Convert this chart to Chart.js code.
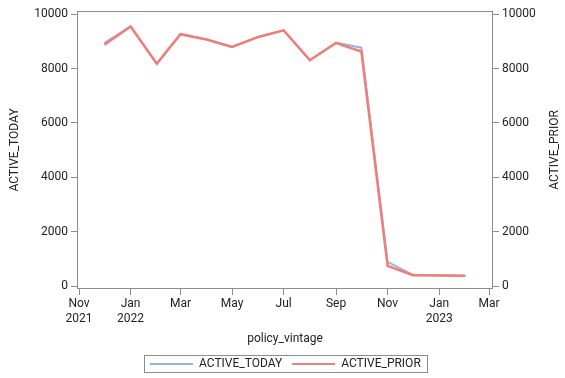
<!DOCTYPE html>
<html>
<head>
<meta charset="utf-8">
<script src="https://cdn.jsdelivr.net/npm/chart.js@4"></script>
<style>
  html, body { margin: 0; padding: 0; background: #fff; }
  #wrap { width: 565px; height: 378px; position: relative; }
</style>
</head>
<body>
<div id="wrap"><canvas id="chart"></canvas></div>
<script>
const months = ["2021-12", "2022-01", "2022-02", "2022-03", "2022-04", "2022-05", "2022-06",
    "2022-07", "2022-08", "2022-09", "2022-10", "2022-11", "2022-12", "2023-01", "2023-02"],
  activeToday = [8950, 9550, 8180, 9265, 9070, 8800, 9165, 9410, 8310, 8960, 8770, 890, 410, 395, 380],
  activePrior = [8880, 9550, 8180, 9265, 9070, 8800, 9165, 9410, 8310, 8940, 8630, 740, 400, 390, 375],
  tickMonths = ["2021-11", "2022-01", "2022-03", "2022-05", "2022-07", "2022-09", "2022-11", "2023-01", "2023-03"],
  tickLabels = [["Nov", "2021"], ["Jan", "2022"], "Mar", "May", "Jul", "Sep", "Nov", ["Jan", "2023"], "Mar"],
  yTicks = [0, 2000, 4000, 6000, 8000, 10000];

// days since 1 Nov 2021
const base = Date.UTC(2021, 10, 1),
  toDay = (m) => {
    const [y, mo] = m.split("-").map(Number);
    return (Date.UTC(y, mo - 1, 1) - base) / 86400000;
  },
  xTickVals = tickMonths.map(toDay);

const font = { family: "Roboto, 'Liberation Sans', Arial, sans-serif", size: 12 },
  textColor = "#222",
  frameColor = "#8c8c8c",
  blue = "#97b4e6",
  red = "#f07e76";

const extras = {
  id: "extras",
  afterDraw(chart) {
    const ctx = chart.ctx,
      a = chart.chartArea;
    ctx.save();
    // frame
    ctx.strokeStyle = frameColor;
    ctx.lineWidth = 1;
    ctx.strokeRect(Math.round(a.left) + 0.5, Math.round(a.top) + 0.5,
      Math.round(a.right - a.left) - 1, Math.round(a.bottom - a.top) - 1);

    ctx.fillStyle = textColor;
    ctx.font = font.size + "px " + font.family;
    ctx.textAlign = "center";
    ctx.textBaseline = "middle";
    const midY = (a.top + a.bottom) / 2;
    // left axis title
    ctx.save();
    ctx.translate(15, midY);
    ctx.rotate(-Math.PI / 2);
    ctx.fillText("ACTIVE_TODAY", 0, 0);
    ctx.restore();
    // right axis title
    ctx.save();
    ctx.translate(555, midY);
    ctx.rotate(-Math.PI / 2);
    ctx.fillText("ACTIVE_PRIOR", 0, 0);
    ctx.restore();
    // x axis title
    ctx.fillText("policy_vintage", (a.left + a.right) / 2, 339);

    // legend
    const items = [["ACTIVE_TODAY", blue], ["ACTIVE_PRIOR", red]],
      lineLen = 43, gap = 6, itemGap = 10, padX = 6;
    ctx.textAlign = "left";
    const widths = items.map(([t]) => lineLen + gap + ctx.measureText(t).width),
      total = widths.reduce((s, w) => s + w, 0) + itemGap * (items.length - 1) + padX * 2,
      lx = Math.round((a.left + a.right) / 2 - total / 2),
      ly = 355, lh = 17;
    ctx.strokeStyle = frameColor;
    ctx.strokeRect(lx + 0.5, ly + 0.5, Math.round(total), lh);
    let x = lx + padX;
    const cy = ly + lh / 2 + 0.5;
    items.forEach(([t, c], i) => {
      ctx.strokeStyle = c;
      ctx.lineWidth = 2;
      ctx.beginPath();
      ctx.moveTo(x, cy);
      ctx.lineTo(x + lineLen, cy);
      ctx.stroke();
      ctx.fillText(t, x + lineLen + gap, cy);
      x += widths[i] + itemGap;
    });
    ctx.restore();
  },
};

const yScale = (pos, width) => ({
  type: "linear",
  position: pos,
  min: -110,
  max: 10120,
  afterBuildTicks: (s) => { s.ticks = yTicks.map((v) => ({ value: v })); },
  afterFit: (s) => { s.width = width; },
  grid: { drawOnChartArea: false, drawTicks: true, tickLength: 6, color: frameColor },
  border: { display: false },
  ticks: { font, color: textColor, padding: 3, callback: (v) => String(v) },
});

new Chart(document.getElementById("chart"), {
  type: "line",
  data: {
    datasets: [
      {
        label: "ACTIVE_TODAY",
        data: months.map((m, i) => ({ x: toDay(m), y: activeToday[i] })),
        borderColor: blue,
        backgroundColor: blue,
        borderWidth: 2,
        pointRadius: 0,
        yAxisID: "y",
        order: 1,
      },
      {
        label: "ACTIVE_PRIOR",
        data: months.map((m, i) => ({ x: toDay(m), y: activePrior[i] })),
        borderColor: red,
        backgroundColor: red,
        borderWidth: 2.5,
        pointRadius: 0,
        yAxisID: "y1",
        order: 0,
      },
    ],
  },
  options: {
    responsive: true,
    maintainAspectRatio: false,
    animation: false,
    layout: { padding: { top: 11, left: 0, right: 0, bottom: 0 } },
    plugins: { legend: { display: false }, tooltip: { enabled: false } },
    scales: {
      x: {
        type: "linear",
        min: -2.4,
        max: 489.7,
        afterBuildTicks: (s) => { s.ticks = xTickVals.map((v) => ({ value: v })); },
        afterFit: (s) => { s.height = 89; },
        grid: { drawOnChartArea: false, drawTicks: true, tickLength: 6, color: frameColor },
        border: { display: false },
        ticks: {
          font,
          color: textColor,
          padding: 2,
          maxRotation: 0,
          autoSkip: false,
          callback: (v) => {
            const i = xTickVals.indexOf(v);
            return i >= 0 ? tickLabels[i] : "";
          },
        },
      },
      y: yScale("left", 77),
      y1: yScale("right", 72),
    },
  },
  plugins: [extras],
});
</script>
</body>
</html>
